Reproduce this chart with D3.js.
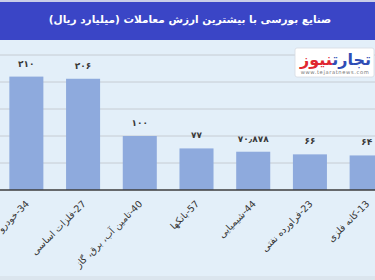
<!DOCTYPE html>
<html>
<head>
<meta charset="utf-8">
<script src="https://cdn.jsdelivr.net/npm/d3@7"></script>
<style>
  html, body { margin: 0; padding: 0; background: #e3eff9; }
  svg { display: block; font-family: "DejaVu Sans", sans-serif; }
</style>
</head>
<body>
<svg id="chart" width="375" height="280"></svg>
<script>
const categories = ["34-خودرو", "27-فلزات اساسی", "40-تامین آب، برق، گاز", "57-بانکها", "44-شیمیایی", "23-فراورده نفتی", "13-کانه فلزی"]
const values = [210, 206, 100, 77, 70.878, 66, 64]
const gridTicks = [50, 100, 150, 200, 250]
const title = "صنایع بورسی با بیشترین ارزش معاملات  (میلیارد ریال)"

const W = 375, H = 280
const svg = d3.select("#chart")

const faDigits = (v) => String(v).replace(/\./g, "٫").replace(/\d/g, (d) => "۰۱۲۳۴۵۶۷۸۹"[+d])

// background + bottom strip
svg.append("rect").attr("width", W).attr("height", H).attr("fill", "#e3eff9")
svg.append("rect").attr("y", 276).attr("width", W).attr("height", 4).attr("fill", "#dbe5ee")

// title bar
svg.append("rect").attr("width", W).attr("height", 40).attr("fill", "#3a45c6")
svg.append("rect").attr("width", W).attr("height", 2).attr("fill", "#c9cde8")
svg.append("text")
  .attr("x", 190).attr("y", 23)
  .attr("text-anchor", "middle")
  .attr("fill", "#fff")
  .attr("font-size", 10.5)
  .attr("font-weight", "bold")
  .text("\u202B" + title + "\u202C")

const x = d3.scaleBand().domain(categories).range([-2, 395]).paddingInner(0.4).paddingOuter(0.2)
const y = d3.scaleLinear().domain([0, 250]).range([190, 55])

// gridlines
svg.append("g")
  .selectAll("line")
  .data(gridTicks)
  .join("line")
  .attr("x1", 0).attr("x2", W)
  .attr("y1", (d) => y(d)).attr("y2", (d) => y(d))
  .attr("stroke", "#c6ccd3")
  .attr("stroke-width", 1)

// bars
svg.append("g")
  .selectAll("rect")
  .data(values)
  .join("rect")
  .attr("x", (d, i) => x(categories[i]))
  .attr("y", (d) => y(d))
  .attr("width", x.bandwidth())
  .attr("height", (d) => y(0) - y(d))
  .attr("fill", "#8eaadd")

// value labels
svg.append("g")
  .selectAll("text")
  .data(values)
  .join("text")
  .attr("x", (d, i) => x(categories[i]) + x.bandwidth() / 2)
  .attr("y", (d) => y(d) - 10)
  .attr("text-anchor", "middle")
  .attr("font-size", 9)
  .attr("font-weight", "bold")
  .attr("fill", "#3a3a3a")
  .text((d) => faDigits(d))

// baseline + category axis
const axis = svg.append("g").attr("transform", `translate(0,${y(0)})`)
axis.append("line").attr("x1", 0).attr("x2", W).attr("stroke", "#3d3d3d").attr("stroke-width", 1.5)
axis.selectAll("text.cat")
  .data(categories)
  .join("text")
  .attr("class", "cat")
  .attr("transform", (d) => `translate(${x(d) + x.bandwidth() / 2 + 1},12) rotate(-45)`)
  .attr("text-anchor", "end")
  .attr("dy", "0.35em")
  .attr("font-size", 9.5)
  .attr("fill", "#333")
  .text((d) => "\u202B" + d + "\u202C")

// logo
const logo = svg.append("g").attr("transform", "translate(295,48)")
logo.append("rect").attr("width", 79).attr("height", 29).attr("rx", 2).attr("fill", "#fff")
  .attr("stroke", "#d5dbe2").attr("stroke-width", 0.8)
const lt = logo.append("text").attr("x", 76).attr("y", 17).attr("font-size", 16).attr("font-weight", "bold")
  .attr("direction", "rtl").attr("text-anchor", "start")
lt.append("tspan").attr("fill", "#2f4db5").text("تجارت")
lt.append("tspan").attr("fill", "#e02630").text("نیوز")
logo.append("text").attr("x", 40).attr("y", 26).attr("text-anchor", "middle")
  .attr("font-size", 5.2).attr("letter-spacing", 0.6).attr("fill", "#777").text("www.tejaratnews.com")
</script>
</body>
</html>
